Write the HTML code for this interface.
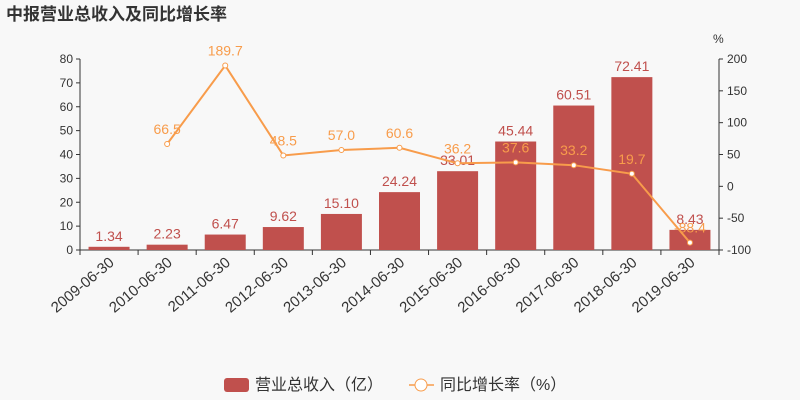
<!DOCTYPE html>
<html><head><meta charset="utf-8"><style>
body{margin:0;background:#f8f8f8;}
svg{display:block;font-family:"Liberation Sans","Noto Sans CJK SC",sans-serif;}
</style></head><body>
<svg id="c" width="800" height="400">
<rect width="800" height="400" fill="#f8f8f8"/>
<text x="6" y="20" font-size="17" font-weight="bold" fill="#333">中报营业总收入及同比增长率</text>
<text x="713" y="43" font-size="12" fill="#333">%</text>
<g id="g"></g>
<g>
<rect x="224" y="378" width="25" height="14" rx="3" fill="#c0504d"/>
<text x="255" y="390" font-size="16" fill="#333">营业总收入（亿）</text>
<line x1="409" y1="385" x2="434" y2="385" stroke="#f89c4b" stroke-width="1.5"/>
<circle cx="421" cy="385" r="6" fill="#fff" stroke="#f89c4b"/>
<text x="440" y="390" font-size="16" fill="#333">同比增长率（%）</text>
</g>
</svg>
<script>
const categories=["2009-06-30","2010-06-30","2011-06-30","2012-06-30","2013-06-30","2014-06-30","2015-06-30","2016-06-30","2017-06-30","2018-06-30","2019-06-30"];
const revenue=[1.34,2.23,6.47,9.62,15.10,24.24,33.01,45.44,60.51,72.41,8.43];
const growth=[null,66.5,189.7,48.5,57.0,60.6,36.2,37.6,33.2,19.7,-88.4];
const leftTicks=[0,10,20,30,40,50,60,70,80];
const rightTicks=[-100,-50,0,50,100,150,200];
const L=80,R=719,T=59,B=250;
const band=(R-L)/categories.length;
const xc=i=>L+band*(i+0.5);
const yl=v=>B-(v/80)*(B-T);
const yr=v=>B-((v+100)/300)*(B-T);
const g=document.getElementById('g');
const NS='http://www.w3.org/2000/svg';
function mk(t,a,txt){const e=document.createElementNS(NS,t);for(const k in a)e.setAttribute(k,a[k]);if(txt!==undefined)e.textContent=txt;g.appendChild(e);return e;}
// axes
let e=mk('line',{x1:L,y1:T,x2:L,y2:B,stroke:'#333'});


e=mk('line',{x1:R,y1:T,x2:R,y2:B,stroke:'#333'});


e=mk('line',{x1:L,y1:B,x2:R,y2:B,stroke:'#333'});


leftTicks.forEach(v=>{mk('line',{x1:L-4,y1:yl(v),x2:L,y2:yl(v),stroke:'#333'});
 e=mk('text',{x:L-7,y:yl(v)+4,'font-size':12,fill:'#333','text-anchor':'end'},v);
 
 });
rightTicks.forEach(v=>{mk('line',{x1:R,y1:yr(v),x2:R+4,y2:yr(v),stroke:'#333'});
 e=mk('text',{x:R+8,y:yr(v)+4,'font-size':12,fill:'#333'},v);
 
 });
for(let i=0;i<=categories.length;i++)mk('line',{x1:L+band*i,y1:B,x2:L+band*i,y2:B+5,stroke:'#333'});
categories.forEach((c,i)=>{
 e=mk('text',{x:xc(i)+6,y:B+14,'font-size':15,fill:'#333','text-anchor':'end',transform:`rotate(-40 ${xc(i)+6} ${B+14})`},c);
 
 
});
revenue.forEach((v,i)=>{
 e=mk('rect',{x:xc(i)-20.5,y:yl(v),width:41,height:B-yl(v),fill:'#c0504d'});
 
 
 e=mk('text',{x:xc(i),y:yl(v)-6,'font-size':14,fill:'#c0504d','text-anchor':'middle'},v.toFixed(2));
 
 
});
const pts=[];growth.forEach((v,i)=>{if(v!==null)pts.push([xc(i),yr(v)]);});
e=mk('polyline',{points:pts.map(p=>p.join(',')).join(' '),fill:'none',stroke:'#f89c4b','stroke-width':2});


growth.forEach((v,i)=>{if(v===null)return;
 e=mk('circle',{cx:xc(i),cy:yr(v),r:2.5,fill:'#fff',stroke:'#f89c4b'});
 
 
 e=mk('text',{x:xc(i),y:yr(v)-10,'font-size':14,fill:'#f89c4b','text-anchor':'middle'},v.toFixed(1));
 
 
});
</script>
</body></html>
